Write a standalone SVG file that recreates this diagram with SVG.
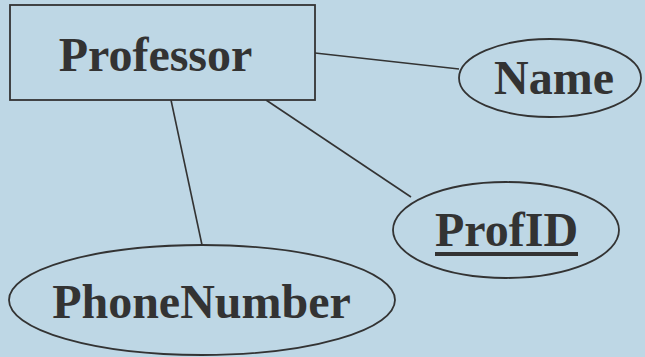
<svg xmlns="http://www.w3.org/2000/svg" width="645" height="357" viewBox="0 0 645 357">
<style>
.shape{fill:#BED7E5;stroke:#333333;stroke-width:1.8}
.lbl{font-family:"Liberation Serif","Times New Roman",serif;font-weight:bold;font-size:48px;fill:#333333;text-anchor:middle}
.conn line{stroke:#333333;stroke-width:1.6}
</style>
<rect x="0" y="0" width="645" height="357" fill="#BED7E5"/>
<g id="connectors" class="conn">
<line x1="315" y1="53" x2="459" y2="69"/>
<line x1="266" y1="100" x2="411" y2="197"/>
<line x1="171" y1="100" x2="202" y2="245"/>
</g>
<g id="professor">
<rect class="shape" x="10" y="5" width="305" height="95"/>
<text class="lbl" x="155.5" y="71">Professor</text>
</g>
<g id="name">
<ellipse class="shape" cx="550" cy="78" rx="91" ry="39"/>
<text class="lbl" x="554" y="94">Name</text>
</g>
<g id="profid">
<ellipse class="shape" cx="506" cy="230" rx="113" ry="48"/>
<text class="lbl" x="506.5" y="246">ProfID</text>
<rect x="435" y="252" width="143" height="4" fill="#333333"/>
</g>
<g id="phonenumber">
<ellipse class="shape" cx="202" cy="300" rx="193" ry="55"/>
<text class="lbl" x="201.5" y="318">PhoneNumber</text>
</g>
</svg>
